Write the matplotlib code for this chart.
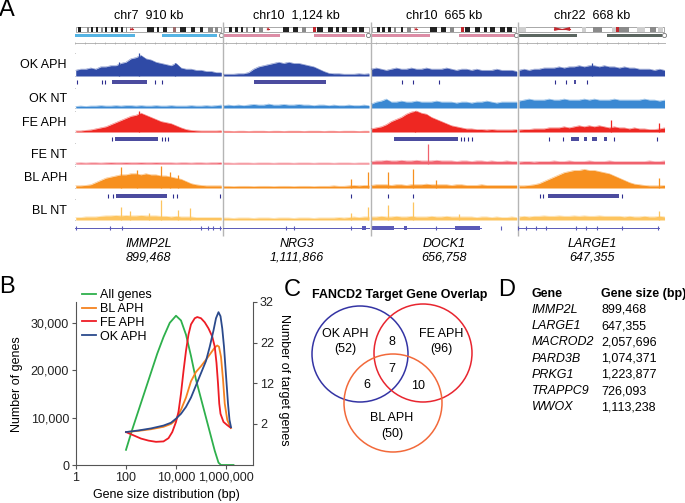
import numpy as np
import matplotlib.pyplot as plt
from matplotlib.patches import Rectangle, Circle, Polygon
from matplotlib.ticker import NullLocator

plt.rcParams['font.family'] = ['Liberation Sans', 'DejaVu Sans']
plt.rcParams['font.size'] = 9

# ---------------- panel A data ----------------
chrom_titles = ['chr7  910 kb', 'chr10  1,124 kb', 'chr10  665 kb', 'chr22  668 kb']
gene_names = ['IMMP2L', 'NRG3', 'DOCK1', 'LARGE1']
gene_bp = ['899,468', '1,111,866', '656,758', '647,355']
track_names = ['OK APH', 'OK NT', 'FE APH', 'FE NT', 'BL APH', 'BL NT']

# coverage envelope, 30 bins per locus, as fraction of track height
ok_aph = [
    [0.25, 0.3, 0.3, 0.35, 0.3, 0.4, 0.4, 0.45, 0.45, 0.55, 0.6, 0.75, 0.8, 0.9, 0.75,
     0.7, 0.6, 0.55, 0.5, 0.45, 0.55, 0.35, 0.3, 0.3, 0.25, 0.25, 0.2, 0.2, 0.15, 0.15],
    [0.08, 0.08, 0.08, 0.1, 0.1, 0.15, 0.3, 0.4, 0.45, 0.5, 0.55, 0.6, 0.55, 0.6, 0.55,
     0.55, 0.5, 0.45, 0.4, 0.3, 0.2, 0.12, 0.1, 0.1, 0.08, 0.08, 0.08, 0.1, 0.08, 0.1],
    [0.3, 0.35, 0.3, 0.25, 0.3, 0.35, 0.3, 0.3, 0.35, 0.3, 0.3, 0.35, 0.3, 0.3, 0.3,
     0.35, 0.3, 0.25, 0.3, 0.3, 0.25, 0.3, 0.25, 0.25, 0.25, 0.3, 0.25, 0.25, 0.25, 0.2],
    [0.25, 0.3, 0.25, 0.3, 0.3, 0.35, 0.35, 0.35, 0.4, 0.35, 0.4, 0.4, 0.45, 0.4, 0.45,
     0.45, 0.4, 0.45, 0.4, 0.4, 0.35, 0.4, 0.35, 0.35, 0.3, 0.3, 0.3, 0.25, 0.3, 0.25],
]
ok_nt = [
    [0.08, 0.1, 0.08, 0.1, 0.1, 0.12, 0.1, 0.1, 0.12, 0.1, 0.12, 0.12, 0.1, 0.12, 0.1,
     0.1, 0.12, 0.1, 0.1, 0.12, 0.1, 0.1, 0.1, 0.12, 0.1, 0.1, 0.12, 0.1, 0.12, 0.15],
    [0.12, 0.15, 0.12, 0.15, 0.12, 0.15, 0.18, 0.15, 0.15, 0.2, 0.15, 0.15, 0.18, 0.15, 0.15,
     0.18, 0.15, 0.15, 0.12, 0.15, 0.15, 0.12, 0.15, 0.12, 0.12, 0.15, 0.12, 0.12, 0.15, 0.12],
    [0.2, 0.3, 0.35, 0.45, 0.3, 0.3, 0.35, 0.3, 0.3, 0.35, 0.3, 0.3, 0.3, 0.35, 0.3,
     0.3, 0.3, 0.25, 0.3, 0.3, 0.25, 0.3, 0.3, 0.35, 0.3, 0.25, 0.3, 0.3, 0.3, 0.3],
    [0.35, 0.4, 0.45, 0.4, 0.4, 0.4, 0.45, 0.4, 0.4, 0.45, 0.4, 0.4, 0.4, 0.45, 0.4,
     0.45, 0.4, 0.4, 0.4, 0.45, 0.4, 0.4, 0.4, 0.4, 0.4, 0.45, 0.4, 0.4, 0.35, 0.4],
]
fe_aph = [
    [0.05, 0.05, 0.08, 0.1, 0.15, 0.2, 0.25, 0.35, 0.45, 0.55, 0.65, 0.75, 0.8, 0.9, 0.8,
     0.7, 0.6, 0.5, 0.45, 0.4, 0.3, 0.2, 0.12, 0.08, 0.06, 0.05, 0.05, 0.05, 0.05, 0.06],
    [0.04, 0.04, 0.03, 0.04, 0.04, 0.03, 0.04, 0.04, 0.04, 0.03, 0.04, 0.04, 0.03, 0.04, 0.04,
     0.04, 0.03, 0.04, 0.04, 0.04, 0.03, 0.04, 0.04, 0.03, 0.04, 0.04, 0.04, 0.03, 0.04, 0.04],
    [0.15, 0.2, 0.25, 0.35, 0.5, 0.6, 0.7, 0.85, 0.95, 1.0, 0.9, 0.85, 0.7, 0.6, 0.5,
     0.4, 0.3, 0.25, 0.2, 0.15, 0.15, 0.12, 0.12, 0.1, 0.12, 0.1, 0.1, 0.1, 0.1, 0.12],
    [0.1, 0.12, 0.12, 0.15, 0.15, 0.15, 0.2, 0.2, 0.2, 0.25, 0.2, 0.25, 0.3, 0.25, 0.3,
     0.25, 0.3, 0.25, 0.2, 0.25, 0.2, 0.2, 0.15, 0.2, 0.15, 0.15, 0.12, 0.12, 0.15, 0.2],
]
fe_nt = [
    [0.05, 0.06, 0.05, 0.06, 0.06, 0.05, 0.06, 0.07, 0.06, 0.06, 0.07, 0.06, 0.06, 0.07, 0.06,
     0.06, 0.07, 0.06, 0.06, 0.06, 0.05, 0.06, 0.06, 0.05, 0.06, 0.06, 0.05, 0.06, 0.06, 0.08],
    [0.05, 0.05, 0.04, 0.05, 0.05, 0.05, 0.04, 0.05, 0.05, 0.05, 0.04, 0.05, 0.05, 0.05, 0.04,
     0.05, 0.05, 0.05, 0.04, 0.05, 0.05, 0.05, 0.04, 0.05, 0.05, 0.05, 0.04, 0.05, 0.05, 0.05],
    [0.12, 0.15, 0.15, 0.18, 0.15, 0.15, 0.18, 0.15, 0.15, 0.18, 0.15, 0.15, 0.15, 0.18, 0.15,
     0.15, 0.15, 0.12, 0.15, 0.15, 0.12, 0.15, 0.15, 0.12, 0.15, 0.12, 0.12, 0.15, 0.12, 0.12],
    [0.1, 0.12, 0.12, 0.1, 0.12, 0.12, 0.12, 0.15, 0.12, 0.12, 0.15, 0.12, 0.12, 0.12, 0.15,
     0.12, 0.12, 0.12, 0.15, 0.12, 0.12, 0.12, 0.12, 0.12, 0.12, 0.12, 0.15, 0.12, 0.12, 0.15],
]
bl_aph = [
    [0.1, 0.1, 0.12, 0.15, 0.25, 0.35, 0.45, 0.5, 0.55, 0.6, 0.6, 0.65, 0.65, 0.6, 0.65,
     0.6, 0.6, 0.55, 0.55, 0.5, 0.45, 0.4, 0.3, 0.2, 0.15, 0.12, 0.1, 0.1, 0.1, 0.1],
    [0.08, 0.08, 0.07, 0.08, 0.08, 0.08, 0.07, 0.08, 0.08, 0.08, 0.07, 0.08, 0.08, 0.08, 0.07,
     0.08, 0.08, 0.08, 0.07, 0.08, 0.08, 0.08, 0.1, 0.08, 0.08, 0.1, 0.12, 0.1, 0.12, 0.12],
    [0.12, 0.15, 0.15, 0.15, 0.12, 0.15, 0.15, 0.12, 0.15, 0.15, 0.15, 0.18, 0.15, 0.15, 0.15,
     0.15, 0.12, 0.15, 0.15, 0.12, 0.12, 0.12, 0.15, 0.12, 0.12, 0.12, 0.12, 0.12, 0.12, 0.12],
    [0.1, 0.1, 0.12, 0.15, 0.2, 0.3, 0.4, 0.5, 0.6, 0.7, 0.75, 0.8, 0.8, 0.85, 0.8,
     0.8, 0.75, 0.7, 0.65, 0.55, 0.45, 0.35, 0.25, 0.18, 0.15, 0.12, 0.1, 0.1, 0.1, 0.12],
]
bl_nt = [
    [0.12, 0.12, 0.15, 0.15, 0.15, 0.18, 0.2, 0.2, 0.22, 0.2, 0.22, 0.2, 0.2, 0.22, 0.2,
     0.2, 0.2, 0.18, 0.18, 0.15, 0.18, 0.15, 0.15, 0.15, 0.12, 0.12, 0.12, 0.12, 0.12, 0.12],
    [0.1, 0.1, 0.08, 0.1, 0.1, 0.1, 0.08, 0.1, 0.1, 0.1, 0.08, 0.1, 0.1, 0.1, 0.08,
     0.1, 0.1, 0.1, 0.08, 0.1, 0.1, 0.1, 0.1, 0.12, 0.1, 0.12, 0.15, 0.12, 0.15, 0.15],
    [0.15, 0.15, 0.18, 0.15, 0.15, 0.18, 0.15, 0.15, 0.18, 0.15, 0.15, 0.15, 0.18, 0.15, 0.15,
     0.18, 0.15, 0.15, 0.15, 0.15, 0.15, 0.12, 0.15, 0.15, 0.12, 0.15, 0.12, 0.12, 0.15, 0.12],
    [0.15, 0.18, 0.15, 0.18, 0.18, 0.2, 0.18, 0.18, 0.2, 0.18, 0.18, 0.2, 0.18, 0.2, 0.18,
     0.18, 0.2, 0.18, 0.18, 0.18, 0.18, 0.15, 0.18, 0.15, 0.15, 0.18, 0.15, 0.15, 0.18, 0.15],
]

# isolated tall bins: (locus, position in locus, height)
ok_aph_spikes = [(0, 0.43, 1.0), (0, 0.3, 0.6), (0, 0.68, 0.55), (3, 0.5, 0.55)]
fe_aph_spikes = [(0, 0.43, 1.0), (2, 0.3, 1.0), (3, 0.63, 0.55), (3, 0.95, 0.45)]
fe_nt_spikes = [(2, 0.39, 0.95)]
bl_aph_spikes = [(0, 0.31, 0.95), (0, 0.42, 0.8), (0, 0.58, 1.0), (0, 0.64, 0.75), (0, 0.7, 0.6),
                 (1, 0.87, 0.4), (1, 0.98, 0.75), (2, 0.12, 0.75), (2, 0.285, 0.85),
                 (2, 0.44, 0.35), (3, 0.95, 0.45)]
bl_nt_spikes = [(0, 0.31, 0.6), (0, 0.37, 0.45), (0, 0.5, 0.35), (0, 0.58, 0.95), (0, 0.7, 0.5),
                (0, 0.78, 0.55), (1, 0.87, 0.35), (1, 0.98, 0.6), (2, 0.12, 0.7),
                (2, 0.285, 0.85), (2, 0.6, 0.3), (3, 0.95, 0.45)]

# called target regions: (locus, start, end); start == end is a single call
ok_calls = [(0, 0.014, 0.014), (0, 0.18, 0.18), (0, 0.2, 0.2), (0, 0.25, 0.49), (0, 0.54, 0.54),
            (0, 0.59, 0.59), (1, 0.21, 0.7), (2, 0.21, 0.21), (2, 0.29, 0.29),
            (2, 0.466, 0.466), (3, 0.25, 0.25), (3, 0.32, 0.32), (3, 0.377, 0.39),
            (3, 0.466, 0.466)]
fe_calls = [(0, 0.25, 0.25), (0, 0.27, 0.56), (0, 0.59, 0.59), (0, 0.61, 0.61), (0, 0.63, 0.63),
            (2, 0.16, 0.59), (2, 0.61, 0.61), (2, 0.635, 0.635), (2, 0.66, 0.66),
            (2, 0.69, 0.69), (3, 0.205, 0.205), (3, 0.3, 0.3), (3, 0.36, 0.41),
            (3, 0.445, 0.466), (3, 0.5, 0.535), (3, 0.58, 0.6), (3, 0.65, 0.65), (3, 0.94, 0.94)]
bl_calls = [(0, 0.22, 0.22), (0, 0.26, 0.26), (0, 0.28, 0.62), (0, 0.66, 0.66), (0, 0.69, 0.69),
            (0, 0.98, 0.98), (1, 0.87, 0.87), (2, 0.12, 0.12), (2, 0.285, 0.285),
            (3, 0.15, 0.15), (3, 0.17, 0.17), (3, 0.2, 0.685), (3, 0.7, 0.7)]

# gene model: line span and exon marks per locus
gene_span = [(0.0, 0.99), (0.0, 0.99), (0.01, 0.75), (0.0, 0.95)]
gene_exons = [
    [(0.007, 0.007), (0.24, 0.24), (0.32, 0.32), (0.85, 0.85), (0.9, 0.9), (0.935, 0.935), (0.98, 0.98)],
    [(0.43, 0.43), (0.48, 0.48), (0.87, 0.87), (0.94, 0.97)],
    [(0.01, 0.16), (0.23, 0.25), (0.44, 0.44), (0.57, 0.74), (0.885, 0.885)],
    [(0.0, 0.0), (0.05, 0.05), (0.12, 0.12), (0.19, 0.19), (0.39, 0.39), (0.46, 0.46),
     (0.53, 0.53), (0.705, 0.705), (0.945, 0.945)],
]

# ideogram bands: (start, width, shade); 'c' = centromere bow-tie
chr7_bands = [(0.016, 0.014, 'k'), (0.075, 0.014, 'g'), (0.102, 0.016, 'k'), (0.134, 0.016, 'k'),
              (0.168, 0.014, 'g'), (0.202, 0.014, 'k'), (0.239, 0.014, 'k'), (0.27, 0.016, 'k'),
              (0.307, 0.014, 'k'), (0.341, 0.012, 'g'), (0.375, 0.018, 'c'), (0.489, 0.05, 'k'),
              (0.557, 0.018, 'k'), (0.602, 0.023, 'k'), (0.67, 0.018, 'm'), (0.716, 0.045, 'k'),
              (0.795, 0.023, 'k'), (0.852, 0.023, 'k'), (0.909, 0.034, 'g'), (0.961, 0.016, 'g')]
chr10_bands = [(0.034, 0.02, 'k'), (0.074, 0.02, 'k'), (0.115, 0.02, 'k'), (0.155, 0.014, 'g'),
               (0.203, 0.014, 'k'), (0.243, 0.027, 'g'), (0.297, 0.014, 'c'), (0.405, 0.047, 'k'),
               (0.48, 0.034, 'k'), (0.54, 0.027, 'g'), (0.615, 0.02, 'r'), (0.642, 0.04, 'k'),
               (0.716, 0.034, 'k'), (0.777, 0.02, 'k'), (0.818, 0.034, 'k'), (0.885, 0.034, 'k'),
               (0.932, 0.034, 'k')]
chr22_bands = [(0.0, 0.045, 'l'), (0.24, 0.11, 'c'), (0.43, 0.03, 'l'), (0.505, 0.065, 'g'),
               (0.64, 0.025, 'l'), (0.665, 0.02, 'r'), (0.685, 0.07, 'g'), (0.81, 0.06, 'l'),
               (0.9, 0.045, 'g'), (0.96, 0.03, 'l')]
locus_bands = [chr7_bands, chr10_bands, chr10_bands, chr22_bands]

# overview bars under the ideogram
arm_bars = [[(0.0, 0.406), (0.589, 0.96)], [(0.007, 0.39), (0.615, 0.965)],
            [(0.007, 0.4), (0.6, 0.98)], [(0.0, 0.4), (0.6, 0.97)]]
arm_colors = ['#55b4e4', '#dc8ca5', '#dc8ca5', '#5b6660']

# ---------------- panel B data ----------------
all_log10bp = [2.0, 2.25, 2.5, 2.75, 3.0, 3.25, 3.5, 3.75, 4.0, 4.2, 4.4, 4.6, 4.8, 5.0, 5.2,
               5.4, 5.55, 5.7, 5.8, 6.3]
all_genes = [3200, 7500, 11500, 15500, 19500, 23500, 27000, 30000, 31500, 30500, 27500, 23000,
             18000, 14000, 10000, 6000, 3000, 500, 0, 0]
bl_log10bp = [2.0, 2.5, 3.0, 3.5, 3.8, 4.0, 4.2, 4.4, 4.6, 4.8, 5.0, 5.2, 5.4, 5.55, 5.65,
              5.72, 5.8, 5.88, 5.95, 6.05, 6.15, 6.2]
bl_targets = [0, 0.3, 0.7, 1.3, 2.0, 3.0, 5.5, 8.5, 12.5, 14.8, 16.2, 17.8, 19.5, 20.8, 21.3,
              21.0, 18.5, 13.0, 7.0, 3.0, 1.5, 1.0]
fe_log10bp = [2.0, 2.3, 2.6, 2.9, 3.2, 3.5, 3.7, 3.85, 4.0, 4.1, 4.2, 4.3, 4.4, 4.5, 4.6,
              4.75, 4.85, 5.0, 5.15, 5.3, 5.45, 5.55, 5.62, 5.68, 5.73, 5.78, 5.9, 6.05, 6.18]
fe_targets = [0, -0.8, -1.6, -2.1, -2.4, -2.3, -1.5, 0, 2.5, 5.0, 9.5, 15.0, 20.0, 24.0, 26.5,
              28.0, 28.3, 28.0, 27.0, 25.5, 23.5, 21.0, 17.0, 12.0, 7.0, 4.5, 2.5, 1.7, 1.1]
ok_log10bp = [2.0, 2.5, 3.0, 3.5, 3.8, 4.0, 4.2, 4.4, 4.6, 4.8, 5.0, 5.2, 5.35, 5.5, 5.6,
              5.7, 5.78, 5.85, 5.92, 6.0, 6.08, 6.14, 6.2]
ok_targets = [0, 0.4, 0.9, 1.6, 2.3, 3.3, 4.5, 6.2, 8.5, 11.5, 14.5, 17.5, 21.0, 25.0, 28.0,
              29.5, 28.5, 25.5, 21.0, 14.0, 7.0, 3.0, 1.2]

# ---------------- panel C / D data ----------------
venn_names = ['OK APH', 'FE APH', 'BL APH']
venn_totals = [52, 96, 50]
venn_pairs = [8, 6, 10]   # OK&FE, OK&BL, FE&BL
venn_all = 7

table_genes = ['IMMP2L', 'LARGE1', 'MACROD2', 'PARD3B', 'PRKG1', 'TRAPPC9', 'WWOX']
table_sizes = ['899,468', '647,355', '2,057,696', '1,074,371', '1,223,877', '726,093', '1,113,238']

W, H = 685, 503
fig = plt.figure(figsize=(W / 100, H / 100), dpi=100)


def px_axes(x0, y0, x1, y1):
    return fig.add_axes([x0 / W, 1 - y1 / H, (x1 - x0) / W, (y1 - y0) / H])


def fig_text(x, y, s, **kw):
    fig.text(x / W, 1 - y / H, s, **kw)


# ================= panel A =================
axA = px_axes(75, 0, 666, 270)
axA.set_xlim(0, 4)
axA.set_ylim(270, 0)
axA.axis('off')

shade = {'k': '#222222', 'g': '#8a8a8a', 'l': '#cfcfcf', 'r': '#c0282e', 'm': '#9a6a6a'}
for p in range(4):
    axA.text(p + 0.5, 16, chrom_titles[p], ha='center', va='center', fontsize=9)
    axA.add_patch(Rectangle((p + 0.008, 26.5), 0.98, 5, facecolor='white',
                            edgecolor='#9a9a9a', lw=0.6))
    for s, w, c in locus_bands[p]:
        x0 = p + 0.008 + s * 0.98
        w = w * 0.98
        if c == 'c':
            axA.add_patch(Polygon([(x0, 27), (x0 + w / 2, 29), (x0, 31)], closed=True,
                                  facecolor=shade['r'], lw=0))
            axA.add_patch(Polygon([(x0 + w, 27), (x0 + w / 2, 29), (x0 + w, 31)], closed=True,
                                  facecolor=shade['r'], lw=0))
            axA.plot([x0, x0 + w], [29, 29], color=shade['r'], lw=0.8)
        else:
            axA.add_patch(Rectangle((x0, 26.5), w, 5, facecolor=shade[c], lw=0))
    for s, e in arm_bars[p]:
        axA.add_patch(Rectangle((p + s, 33.5), e - s, 3.2, facecolor=arm_colors[p], lw=0))
    axA.plot(p + 0.985, 35, 'o', ms=3, mfc='white', mec='#777777', mew=0.6)
    axA.text(p + 0.5, 244, gene_names[p], ha='center', va='center', style='italic', fontsize=9)
    axA.text(p + 0.5, 258, gene_bp[p], ha='center', va='center', style='italic', fontsize=9)

# scale ruler
axA.plot([0, 4], [43, 43], color='#aaaaaa', lw=0.6)
ruler = np.arange(0, 4, 0.068)
axA.vlines(ruler, 42, 44, color='#aaaaaa', lw=0.5)

# locus separators
axA.vlines([1, 2, 3], 22, 236, color='#b5b5b5', lw=1.0)

tracks = [ok_aph, ok_nt, fe_aph, fe_nt, bl_aph, bl_nt]
spikes = [ok_aph_spikes, [], fe_aph_spikes, fe_nt_spikes, bl_aph_spikes, bl_nt_spikes]
track_colors = ['#2f4aa6', '#3a88d2', '#ee2722', '#f0626e', '#f7901f', '#fdc45e']
track_rows = [(53, 76), (88, 108), (111, 132), (143, 164), (166, 188), (199, 220)]
for name, data, spk, col, (top, base) in zip(track_names, tracks, spikes, track_colors, track_rows):
    h = base - top
    axA.text(-0.055, (top + base) / 2 + 1, name, ha='right', va='center', fontsize=9,
             clip_on=False)
    axA.vlines(-0.008, top, base, color='#8a8a8a', lw=0.6)
    axA.hlines([top, base], -0.008, 0.0, color='#8a8a8a', lw=0.6)
    for p in range(4):
        x = p + np.linspace(0.005, 0.99, len(data[p]))
        v = np.array(data[p])
        axA.fill_between(x, base, base - v * h, color=col, lw=0)
        axA.plot(x, base - v * h, color=col, lw=0.4, alpha=0.6)
    for p, pos, val in spk:
        axA.vlines(p + pos, base, base - val * h, color=col, lw=0.9)

call_color = '#2c2c8e'
for calls, y in zip([ok_calls, fe_calls, bl_calls], [82, 139, 196]):
    for p, s, e in calls:
        if e > s:
            axA.add_patch(Rectangle((p + s, y - 2), e - s, 4, facecolor=call_color,
                                    alpha=0.85, lw=0))
        else:
            axA.vlines(p + s, y - 2, y + 2, color=call_color, lw=0.8)

for p in range(4):
    s, e = gene_span[p]
    axA.plot([p + s, p + e], [228, 228], color='#5a5ab8', lw=0.7)
    for a, b in gene_exons[p]:
        if b > a:
            axA.add_patch(Rectangle((p + a, 226.3), b - a, 3.4, facecolor='#5a5ab8', lw=0))
        else:
            axA.vlines(p + a, 226, 230, color='#5a5ab8', lw=0.8)

# ================= panel B =================
axB = px_axes(76, 302, 253, 465)
axB.set_xscale('log')
axB.set_xlim(1, 10 ** 7.08)
axB.set_ylim(0, 34400)
l_all, = axB.plot(10 ** np.array(all_log10bp), all_genes, color='#2eb04c', lw=1.3)
axR = axB.twinx()
axR.set_ylim(-8.1, 32)
l_bl, = axR.plot(10 ** np.array(bl_log10bp), bl_targets, color='#f58220', lw=1.3)
l_fe, = axR.plot(10 ** np.array(fe_log10bp), fe_targets, color='#ee1c25', lw=1.3)
l_ok, = axR.plot(10 ** np.array(ok_log10bp), ok_targets, color='#2b4a8c', lw=1.3)

axB.set_xticks([1, 100, 1e4, 1e6])
axB.set_xticklabels(['1', '100', '10,000', '1,000,000'])
axB.xaxis.set_minor_locator(NullLocator())
axB.set_yticks([0, 10000, 20000, 30000])
axB.set_yticklabels(['0', '10,000', '20,000', '30,000'])
axR.set_yticks([2, 12, 22, 32])
for ax in (axB, axR):
    for sp in ax.spines.values():
        sp.set_color('#555555')
        sp.set_linewidth(0.8)
    ax.spines['top'].set_visible(False)
    ax.tick_params(colors='#555555', labelcolor='#222222', labelsize=9, length=3, width=0.8,
                   pad=2)
axB.spines['right'].set_visible(False)
axR.spines['left'].set_visible(False)
axR.spines['bottom'].set_visible(False)

fig.legend([l_all, l_bl, l_fe, l_ok], ['All genes', 'BL APH', 'FE APH', 'OK APH'],
           loc='upper left', bbox_to_anchor=(82 / W, 1 - 289 / H), frameon=False,
           fontsize=9, handlelength=1.1, handletextpad=0.3, labelspacing=0.15,
           borderpad=0, borderaxespad=0)
fig_text(17, 384, 'Number of genes', rotation=90, ha='center', va='center', fontsize=9)
fig_text(284, 380, 'Number of target genes', rotation=270, ha='center', va='center', fontsize=9)
fig_text(166, 495, 'Gene size distribution (bp)', ha='center', va='center', fontsize=9)

# ================= panel C =================
axC = px_axes(300, 300, 490, 470)
axC.set_xlim(300, 490)
axC.set_ylim(470, 300)
axC.set_aspect('equal')
axC.axis('off')
axC.add_patch(Circle((360, 354), 48, fill=False, ec='#3434a4', lw=1.1))
axC.add_patch(Circle((423, 353), 49, fill=False, ec='#e8252f', lw=1.1))
axC.add_patch(Circle((393, 403), 49, fill=False, ec='#f2693a', lw=1.1))
axC.text(345, 334, venn_names[0], ha='center', va='center', fontsize=9)
axC.text(345, 349, f'({venn_totals[0]})', ha='center', va='center', fontsize=9)
axC.text(441, 334, venn_names[1], ha='center', va='center', fontsize=9)
axC.text(441, 349, f'({venn_totals[1]})', ha='center', va='center', fontsize=9)
axC.text(392, 418, venn_names[2], ha='center', va='center', fontsize=9)
axC.text(392, 434, f'({venn_totals[2]})', ha='center', va='center', fontsize=9)
axC.text(392, 342, str(venn_pairs[0]), ha='center', va='center', fontsize=9)
axC.text(367, 385, str(venn_pairs[1]), ha='center', va='center', fontsize=9)
axC.text(418, 386, str(venn_pairs[2]), ha='center', va='center', fontsize=9)
axC.text(392, 369, str(venn_all), ha='center', va='center', fontsize=9)
fig_text(400, 295, 'FANCD2 Target Gene Overlap', ha='center', va='center', fontsize=9,
         fontweight='bold')

# ================= panel D =================
fig_text(532, 294, 'Gene', ha='left', va='center', fontsize=9, fontweight='bold')
fig_text(601, 294, 'Gene size (bp)', ha='left', va='center', fontsize=9, fontweight='bold')
for i, (g, s) in enumerate(zip(table_genes, table_sizes)):
    y = 310 + i * 16.2
    fig_text(532, y, g, ha='left', va='center', fontsize=9, style='italic')
    fig_text(601, y, s, ha='left', va='center', fontsize=9)

# panel letters
for letter, x, y in [('A', 7, 10), ('B', 7, 287), ('C', 292, 290), ('D', 507, 290)]:
    fig_text(x, y, letter, ha='center', va='center', fontsize=17)

fig.savefig('out.png', dpi=100)
